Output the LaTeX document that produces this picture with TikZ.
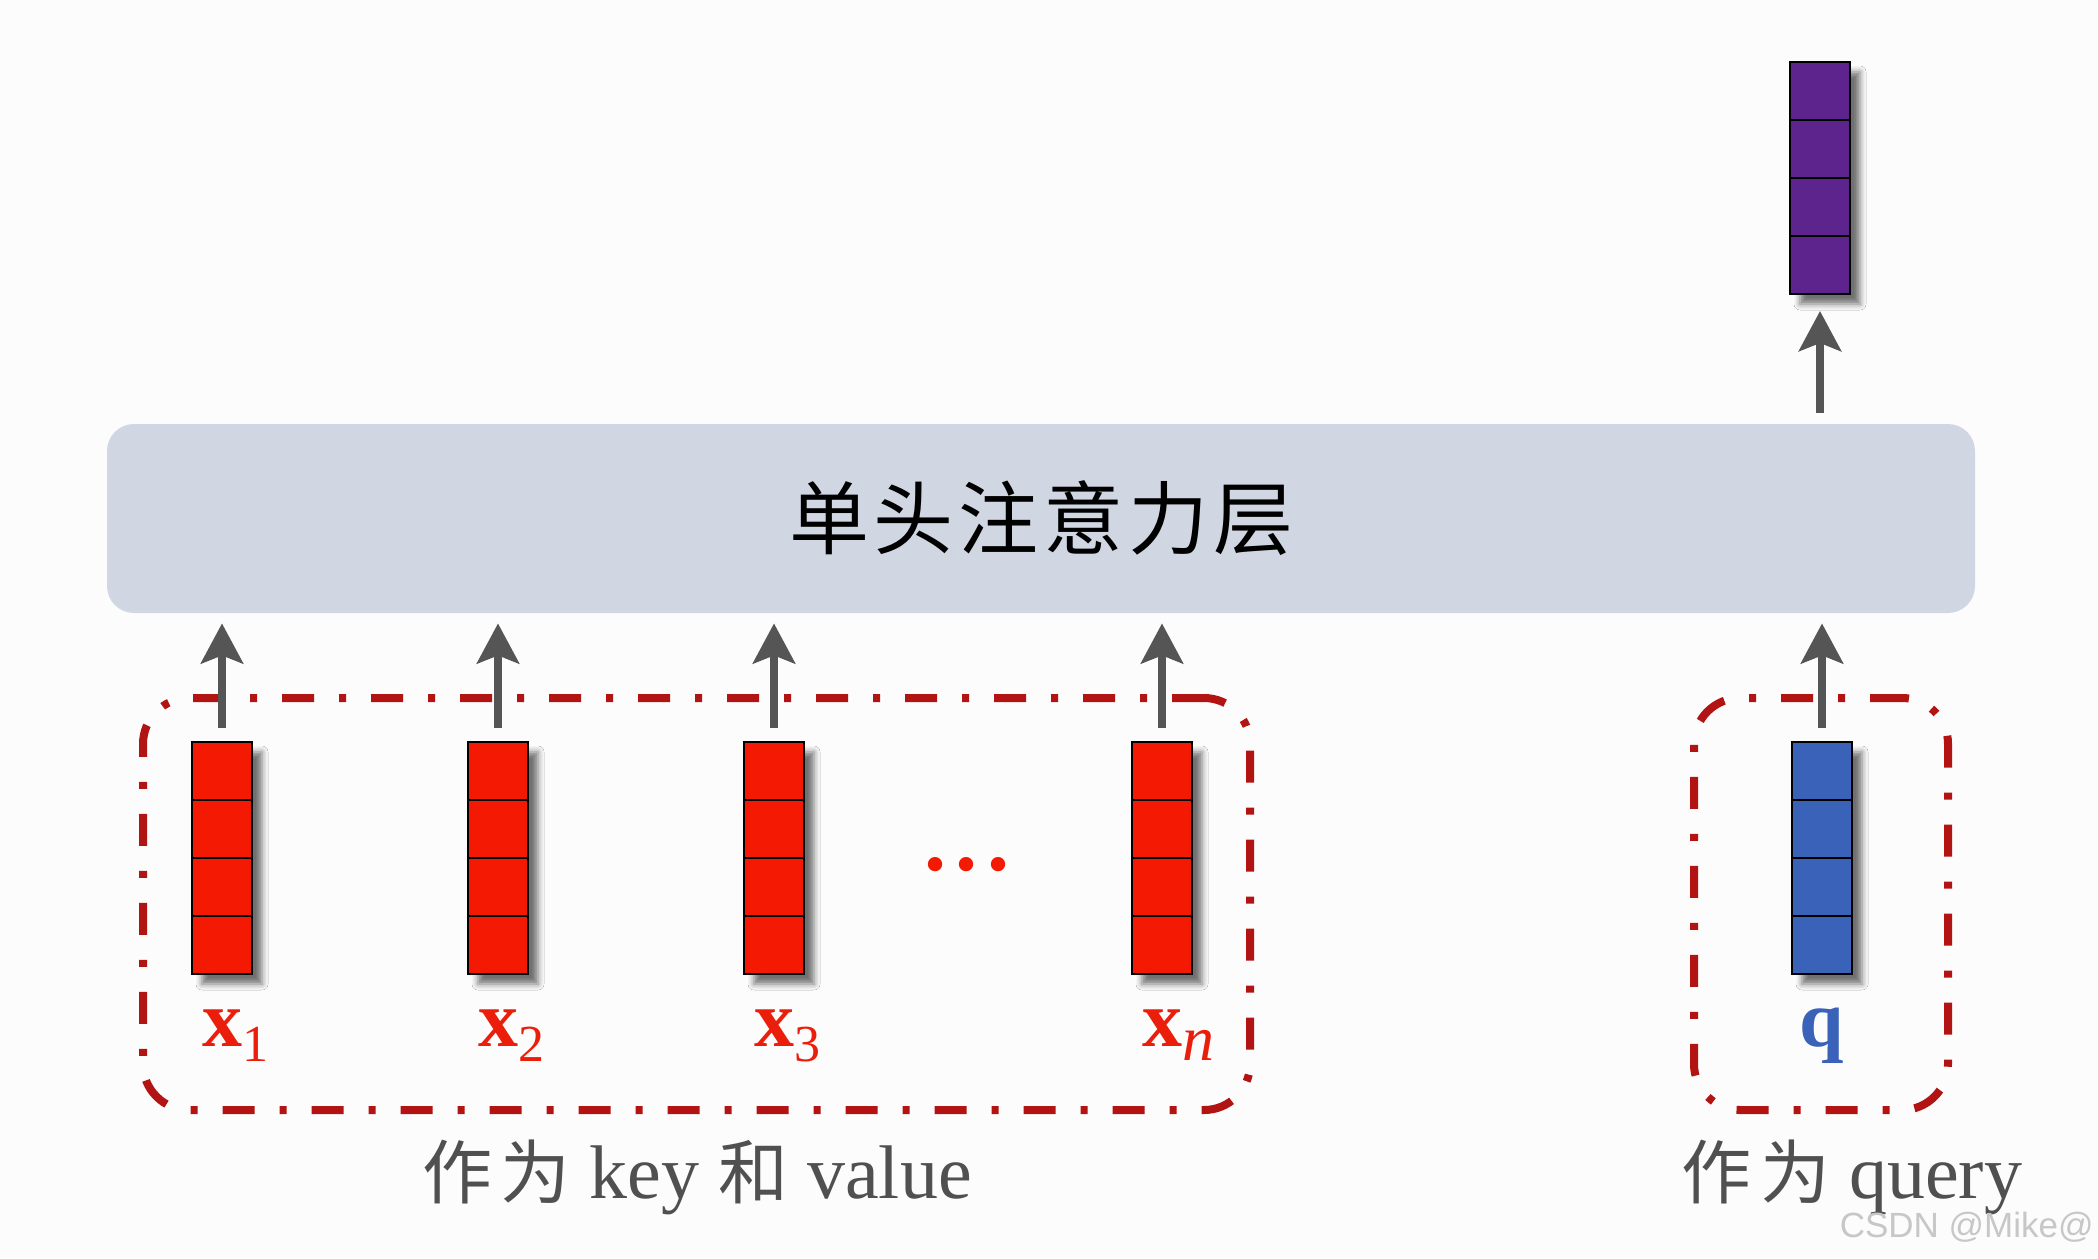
\documentclass[tikz,border=0pt]{standalone}
\usepackage{fontspec}
\setmainfont{Liberation Serif}
\newfontfamily\cjktitle[LetterSpace=6]{Noto Sans CJK SC}
\newfontfamily\cjk[Scale=0.92,LetterSpace=12]{Noto Sans CJK SC}
\newfontfamily\wmfont{Liberation Sans}
\usetikzlibrary{arrows.meta,calc,shadows.blur}
\definecolor{bgc}{RGB}{253,252,252}
\definecolor{vred}{RGB}{244,25,2}
\definecolor{vblue}{RGB}{58,98,184}
\definecolor{vpurple}{RGB}{94,36,142}
\definecolor{attfill}{RGB}{208,214,226}
\definecolor{arrgray}{RGB}{85,85,85}
\definecolor{txtgray}{RGB}{80,80,80}
\definecolor{ddred}{RGB}{178,20,20}
\definecolor{lblred}{RGB}{235,30,12}
\begin{document}
\begin{tikzpicture}[x=0.5pt,y=-0.5pt,
  vecbox/.style={draw=black, line width=1pt, minimum width=30pt, minimum height=116pt,
    inner sep=0pt,
    blur shadow={shadow xshift=5pt, shadow yshift=-5pt, shadow blur radius=3pt, shadow opacity=55},
    path picture={\foreach \k in {1,2,3}
      \draw[line width=1pt] ($(path picture bounding box.north west)!\k/4!(path picture bounding box.south west)$)
        -- ($(path picture bounding box.north east)!\k/4!(path picture bounding box.south east)$);}},
  arr/.style={draw=arrgray, line width=4pt, -{Stealth[length=20pt,width=21pt,inset=4pt]}},
  ddbox/.style={draw=ddred, line width=4pt, rounded corners=23pt,
    dash pattern=on 16pt off 12.5pt on 3.5pt off 12.5pt, inner sep=0pt},
  veclbl/.style={anchor=base west, inner sep=0pt, font=\fontsize{40}{40}\selectfont},
  bottomlbl/.style={anchor=base, inner sep=0pt, text=txtgray, font=\fontsize{38}{38}\selectfont}
]
\useasboundingbox (0,0) rectangle (2098,1258);
\fill[bgc] (0,0) rectangle (2098,1258);

% attention layer
\node[fill=attfill, rounded corners=13.5pt, minimum width=934pt, minimum height=94.5pt, inner sep=0pt]
  (att) at (1041,518.5) {\cjktitle\fontsize{40}{40}\selectfont 单头注意力层};

% dash-dot groups
\node[ddbox, minimum width=553.5pt, minimum height=206pt] (kvgroup) at (696.5,904) {};
\node[ddbox, minimum width=127pt, minimum height=206pt] (qgroup) at (1821,904) {};

% vectors
\node[vecbox, fill=vred] (v1) at (222,858) {};
\node[vecbox, fill=vred] (v2) at (498,858) {};
\node[vecbox, fill=vred] (v3) at (774,858) {};
\node[vecbox, fill=vred] (vn) at (1162,858) {};
\node[vecbox, fill=vblue] (vq) at (1822,858) {};
\node[vecbox, fill=vpurple] (out) at (1820,178) {};

% dots
\node[text=vred, inner sep=0pt, anchor=base] (dots) at (967,870)
  {\fontsize{44}{44}\selectfont\bfseries .\kern5pt.\kern5pt.};

% vector labels
\node[veclbl, text=lblred] (l1) at (202,1046) {\textbf{x}\raisebox{-7.5pt}{\fontsize{26}{26}\selectfont 1}};
\node[veclbl, text=lblred] (l2) at (478,1046) {\textbf{x}\raisebox{-7.5pt}{\fontsize{26}{26}\selectfont 2}};
\node[veclbl, text=lblred] (l3) at (754,1046) {\textbf{x}\raisebox{-7.5pt}{\fontsize{26}{26}\selectfont 3}};
\node[veclbl, text=lblred] (ln) at (1142,1046) {\textbf{x}\raisebox{-7pt}{\fontsize{32}{32}\selectfont\itshape n}};
\node[anchor=base, inner sep=0pt, text=vblue, font=\fontsize{40}{40}\selectfont\bfseries] (lq) at (1822,1046) {q};

% arrows
\foreach \v in {v1,v2,v3,vn,vq}
  \draw[arr, shorten <=6.5pt, shorten >=5pt] (\v.north) -- (\v.north |- att.south);
\draw[arr, shorten <=5.5pt, shorten >=8pt] (att.north -| out.south) -- (out.south);

% bottom labels
\node[bottomlbl] (kvlbl) at (697,1198) {{\cjk 作为} key {\cjk 和} value};
\node[bottomlbl] (qlbl) at (1852,1198) {{\cjk 作为} query};

% watermark
\node[anchor=base east, inner sep=0pt, text=black!22, font=\wmfont\fontsize{17.5}{17.5}\selectfont] (wm) at (2094,1237) {CSDN @Mike@};
\end{tikzpicture}
\end{document}
